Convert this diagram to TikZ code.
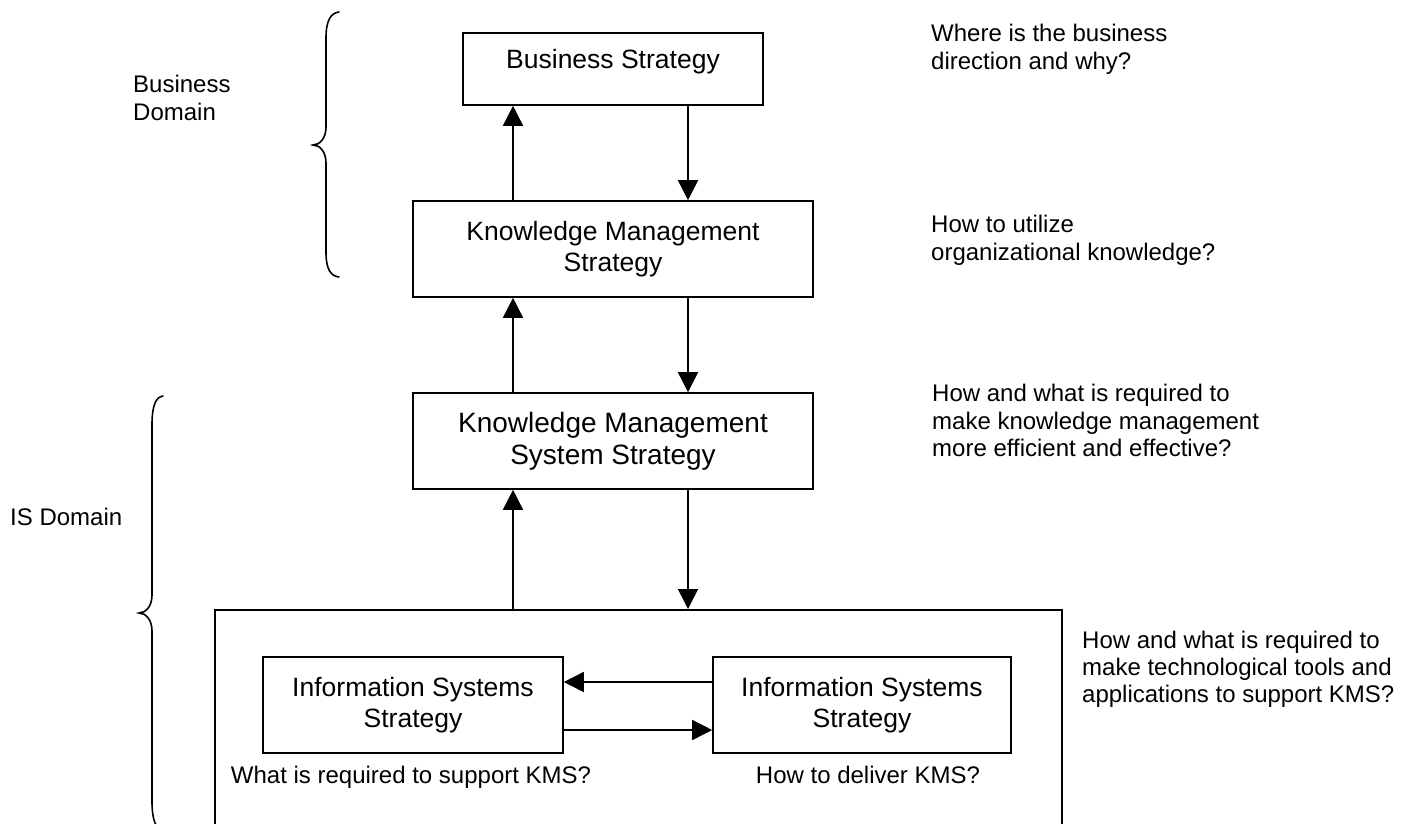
\documentclass[tikz,border=0pt]{standalone}
\usepackage{fontspec}
\setmainfont{Liberation Sans}
\usetikzlibrary{arrows.meta}
\begin{document}
\begin{tikzpicture}[x=1pt,y=-1pt,
  box/.style={draw, line width=1.6pt, inner sep=0pt, align=center},
  boxfont/.style={font=\fontsize{26.5}{30.5}\selectfont},
  note/.style={inner sep=0pt, align=left, font=\fontsize{24}{27.6}\selectfont},
  link/.style={line width=1.6pt, -{Triangle[length=20pt,width=20pt]}},
  brace/.style={line width=1.6pt, line cap=round}]
\clip (0,0) rectangle (1408,823);

% strategy column
\node[box, boxfont, minimum width=300pt, text height=35pt, text depth=37pt, anchor=base]
  (bs) at (613,68) {Business Strategy};
\node[box, boxfont, minimum width=400pt, minimum height=96pt]
  (kms) at (613,249) {Knowledge Management\\Strategy};
\node[box, font=\fontsize{28}{32}\selectfont, minimum width=400pt, minimum height=96pt]
  (kmss) at (613,441) {Knowledge Management\\System Strategy};

% IS container and its two strategies
\node[box, minimum width=847pt, minimum height=260pt, anchor=north west]
  (isbox) at (214,609) {};
\node[box, boxfont, minimum width=300pt, minimum height=96pt]
  (isl) at (413,705) {Information Systems\\Strategy};
\node[box, boxfont, minimum width=298pt, minimum height=96pt]
  (isr) at (862,705) {Information Systems\\Strategy};

% vertical links
\draw[link] ([xshift=-100pt]kms.north) -- ([xshift=-100pt]bs.south);
\draw[link] ([xshift=75pt]bs.south) -- ([xshift=75pt]kms.north);
\draw[link] ([xshift=-100pt]kmss.north) -- ([xshift=-100pt]kms.south);
\draw[link] ([xshift=75pt]kms.south) -- ([xshift=75pt]kmss.north);
\draw[link] ([xshift=299pt]isbox.north west) -- ([xshift=-100pt]kmss.south);
\draw[link] ([xshift=75pt]kmss.south) -- ([xshift=474pt]isbox.north west);

% horizontal links
\draw[link] ([yshift=23pt]isr.west) -- ([yshift=23pt]isl.east);
\draw[link] ([yshift=-25pt]isl.east) -- ([yshift=-25pt]isr.west);

% captions under the IS strategies
\node[note, anchor=base] (islcap) at (411,783) {What is required to support KMS?};
\node[note, anchor=base] (isrcap) at (868,783) {How to deliver KMS?};

% questions on the right (anchored at the baseline of the last line)
\node[note, anchor=base west] (q1) at (931,69.3) {Where is the business\\direction and why?};
\node[note, anchor=base west] (q2) at (931,260) {How to utilize\\organizational knowledge?};
\node[note, anchor=base west] (q3) at (932,456.7) {How and what is required to\\make knowledge management\\more efficient and effective?};
\node[note, anchor=base west, font=\fontsize{24}{26.7}\selectfont] (q4) at (1082,702) {How and what is required to\\make technological tools and\\applications to support KMS?};

% domain labels and braces
\node[note, anchor=base west] (bd) at (133,120) {Business\\Domain};
\node[note, anchor=base west] (isd) at (10,525) {IS Domain};

\draw[brace] (339,12) .. controls (331,13) and (326,20) .. (326,38) -- (326,127)
  .. controls (326,138) and (320,145) .. (313,145)
  .. controls (320,145) and (326,152) .. (326,163) -- (326,252)
  .. controls (326,270) and (331,276) .. (339,277);
\draw[brace] (163,396) .. controls (156,397) and (152,405) .. (152,425) -- (152,595)
  .. controls (152,606) and (146,613) .. (139,613)
  .. controls (146,613) and (152,620) .. (152,631) -- (152,801)
  .. controls (152,821) and (156,829) .. (163,830);
\end{tikzpicture}
\end{document}
